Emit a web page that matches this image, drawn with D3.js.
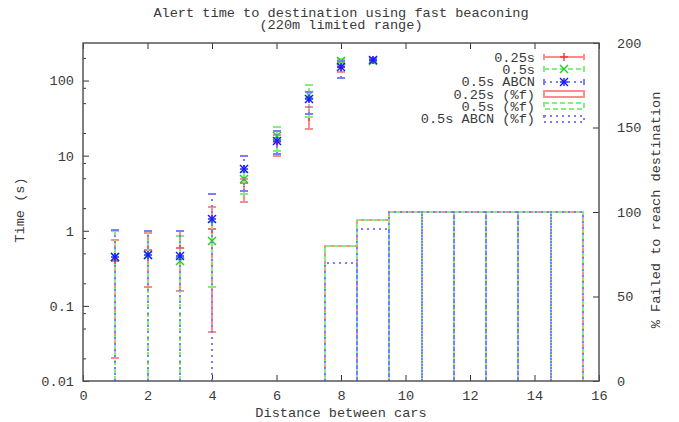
<!DOCTYPE html>
<html>
<head>
<meta charset="utf-8">
<script src="https://cdn.jsdelivr.net/npm/d3@7"></script>
<style>
body { margin: 0; background: #fff; }
text { font-family: "Liberation Mono", "DejaVu Sans Mono", monospace; font-size: 13.6px; fill: #3a3a3a; }
</style>
</head>
<body>
<svg id="viz"></svg>
<script>
var width = 679;
var height = 422;

// time to destination (s), error bar low / high
var distances = [1, 2, 3, 4, 5, 6, 7, 8, 9];
var time025 = [0.39, 0.55, 0.59, 1.07, 4.3, 15, 33, 150, 185];
var time025Lo = [0.02, 0.18, 0.16, 0.045, 2.4, 10, 22.7, 128, 178];
var time025Hi = [0.75, 0.94, 1.0, 2.1, 4.9, 19, 44, 175, 195];
var time05 = [0.45, 0.47, 0.40, 0.74, 4.9, 18, 64, 180, 180];
var time05Lo = [0.001, 0.001, 0.001, 0.18, 3.1, 11.7, 33, 160, 170];
var time05Hi = [1.0, 1.0, 0.86, 1.29, 6.0, 24, 88, 196, 190];
var timeAbcn = [0.45, 0.47, 0.46, 1.45, 6.6, 15.8, 57, 150, 190];
var timeAbcnLo = [0.001, 0.001, 0.001, 0.001, 3.4, 10.5, 36, 108, 180];
var timeAbcnHi = [1.02, 1.0, 0.98, 3.1, 9.8, 21, 71, 180, 200];

// % failed to reach destination
var failDistances = [8, 9, 10, 11, 12, 13, 14, 15];
var fail025 = [80, 95, 100, 100, 100, 100, 100, 100];
var fail05 = [80, 95, 100, 100, 100, 100, 100, 100];
var failAbcn = [70, 90, 100, 100, 100, 100, 100, 100];

var xTicks = [0, 2, 4, 6, 8, 10, 12, 14, 16];
var yTicks = [0.01, 0.1, 1, 10, 100];
var yMinorTicks = [0.02, 0.05, 0.08, 0.2, 0.5, 0.8, 2, 5, 8, 20, 50, 80, 200];
var y2Ticks = [0, 50, 100, 150, 200];

var svg = d3.select("#viz")
    .attr("width", width)
    .attr("height", height);

var plotLeft = 83, plotRight = 599, plotTop = 43, plotBottom = 381;

var x = d3.scaleLinear().domain([0, 16]).range([plotLeft, plotRight]);
var y = d3.scaleLog().domain([0.01, 316]).range([plotBottom, plotTop]).clamp(true);
var y2 = d3.scaleLinear().domain([0, 200]).range([plotBottom, plotTop]);

// 2px soft lines on whole pixels, like the antialiased originals
function px(v) { return Math.round(v); }

var series = [
    {name: "0.25s", color: "#ff8c8c", mcolor: "#ff3030", dash: null, mark: "plus", v: time025, lo: time025Lo, hi: time025Hi, fail: fail025},
    {name: "0.5s", color: "#84ee84", mcolor: "#20d020", dash: "5,3", mark: "cross", v: time05, lo: time05Lo, hi: time05Hi, fail: fail05},
    {name: "0.5s ABCN", color: "#7c7cff", mcolor: "#1818ff", dash: "2,4", mark: "star", v: timeAbcn, lo: timeAbcnLo, hi: timeAbcnHi, fail: failAbcn}
];

// axes
function styleAxis(g) {
    g.select(".domain").remove();
    g.attr("color", "#333");
    g.selectAll("text").attr("font-family", null).attr("font-size", null);
}

svg.append("g")
    .attr("transform", "translate(0," + plotBottom + ")")
    .call(d3.axisBottom(x).tickValues(xTicks).tickSize(-6).tickPadding(9).tickFormat(d3.format("d")))
    .call(styleAxis);

svg.append("g")
    .attr("transform", "translate(0," + plotTop + ")")
    .call(d3.axisTop(x).tickValues(xTicks).tickSize(-6).tickFormat(""))
    .call(styleAxis);

svg.append("g")
    .attr("transform", "translate(" + plotLeft + ",0)")
    .call(d3.axisLeft(y).tickValues(yTicks).tickSize(-6).tickPadding(9)
        .tickFormat(function(d) { return String(+d.toPrecision(3)); }))
    .call(styleAxis);

svg.append("g")
    .attr("transform", "translate(" + plotLeft + ",0)")
    .call(d3.axisLeft(y).tickValues(yMinorTicks).tickSize(-3).tickFormat(""))
    .call(styleAxis);

svg.append("g")
    .attr("transform", "translate(" + plotRight + ",0)")
    .call(d3.axisRight(y2).tickValues(y2Ticks).tickSize(-6).tickPadding(18))
    .call(styleAxis);

// boxes for failures
series.forEach(function(s) {
    svg.append("g").selectAll("path")
        .data(failDistances)
        .enter().append("path")
        .attr("d", function(d, i) {
            var x0 = px(x(d - 0.5)), x1 = px(x(d + 0.5)), yt = px(y2(s.fail[i])), yb = plotBottom;
            return "M" + x0 + "," + yb + "V" + yt + "H" + x1 + "V" + yb;
        })
        .attr("fill", "none")
        .attr("stroke", s.color)
        .attr("stroke-width", 2)
        .attr("shape-rendering", "crispEdges")
        .attr("stroke-dasharray", s.dash);
});

function drawMark(g, type, cx, cy, color) {
    var r = 4;
    var lines = [];
    if (type === "plus" || type === "star") lines.push([-r, 0, r, 0], [0, -r, 0, r]);
    if (type === "cross" || type === "star") lines.push([-r, -r, r, r], [-r, r, r, -r]);
    lines.forEach(function(l) {
        g.append("line")
            .attr("x1", cx + l[0]).attr("y1", cy + l[1])
            .attr("x2", cx + l[2]).attr("y2", cy + l[3])
            .attr("stroke", color).attr("stroke-width", 1.4);
    });
}

// error bars
series.forEach(function(s) {
    var g = svg.append("g");
    distances.forEach(function(d, i) {
        var cx = px(x(d));
        g.append("line")
            .attr("x1", cx).attr("x2", cx)
            .attr("y1", y(s.lo[i])).attr("y2", y(s.hi[i]))
            .attr("stroke", s.color).attr("stroke-width", 2)
            .attr("shape-rendering", "crispEdges")
            .attr("stroke-dasharray", s.dash);
        [s.lo[i], s.hi[i]].forEach(function(v) {
            if (v < 0.01) return;
            g.append("line")
                .attr("x1", cx - 4).attr("x2", cx + 4)
                .attr("y1", px(y(v))).attr("y2", px(y(v)))
                .attr("stroke", s.color).attr("stroke-width", 2)
                .attr("shape-rendering", "crispEdges");
        });
        drawMark(g, s.mark, cx, px(y(s.v[i])), s.mcolor);
    });
});

// border
svg.append("rect")
    .attr("x", plotLeft).attr("y", plotTop)
    .attr("width", plotRight - plotLeft).attr("height", plotBottom - plotTop)
    .attr("fill", "none")
    .attr("stroke", "#555")
    .attr("stroke-width", 1.5);

// legend
var legendRows = [];
series.forEach(function(s) { legendRows.push({label: s.name, s: s, box: false}); });
series.forEach(function(s) { legendRows.push({label: s.name + " (%f)", s: s, box: true}); });

var legend = svg.append("g");
legendRows.forEach(function(r, i) {
    var ly = 57 + i * 12.3;
    var lyp = px(ly);
    legend.append("text")
        .attr("x", 535).attr("y", ly)
        .attr("dy", "0.35em")
        .attr("text-anchor", "end")
        .text(r.label);
    if (r.box) {
        legend.append("rect")
            .attr("x", 544).attr("y", lyp - 3)
            .attr("width", 40).attr("height", 6)
            .attr("fill", "none")
            .attr("stroke", r.s.color)
            .attr("stroke-width", 2)
            .attr("shape-rendering", "crispEdges")
            .attr("stroke-dasharray", r.s.dash);
    } else {
        legend.append("line")
            .attr("x1", 544).attr("x2", 584).attr("y1", lyp).attr("y2", lyp)
            .attr("stroke", r.s.color).attr("stroke-width", 2)
            .attr("shape-rendering", "crispEdges")
            .attr("stroke-dasharray", r.s.dash);
        [544, 584].forEach(function(ex) {
            legend.append("line")
                .attr("x1", ex).attr("x2", ex).attr("y1", lyp - 3).attr("y2", lyp + 3)
                .attr("stroke", r.s.color).attr("stroke-width", 2)
                .attr("shape-rendering", "crispEdges");
        });
        drawMark(legend, r.s.mark, 564, lyp, r.s.mcolor);
    }
});

// titles
svg.append("text")
    .attr("x", 341).attr("y", 17)
    .attr("text-anchor", "middle")
    .text("Alert time to destination using fast beaconing");
svg.append("text")
    .attr("x", 341).attr("y", 29)
    .attr("text-anchor", "middle")
    .text("(220m limited range)");

svg.append("text")
    .attr("x", 341).attr("y", 417)
    .attr("text-anchor", "middle")
    .text("Distance between cars");

svg.append("text")
    .attr("transform", "translate(24,210) rotate(-90)")
    .attr("text-anchor", "middle")
    .text("Time (s)");

svg.append("text")
    .attr("transform", "translate(660,210) rotate(-90)")
    .attr("text-anchor", "middle")
    .text("% Failed to reach destination");
</script>
</body>
</html>
